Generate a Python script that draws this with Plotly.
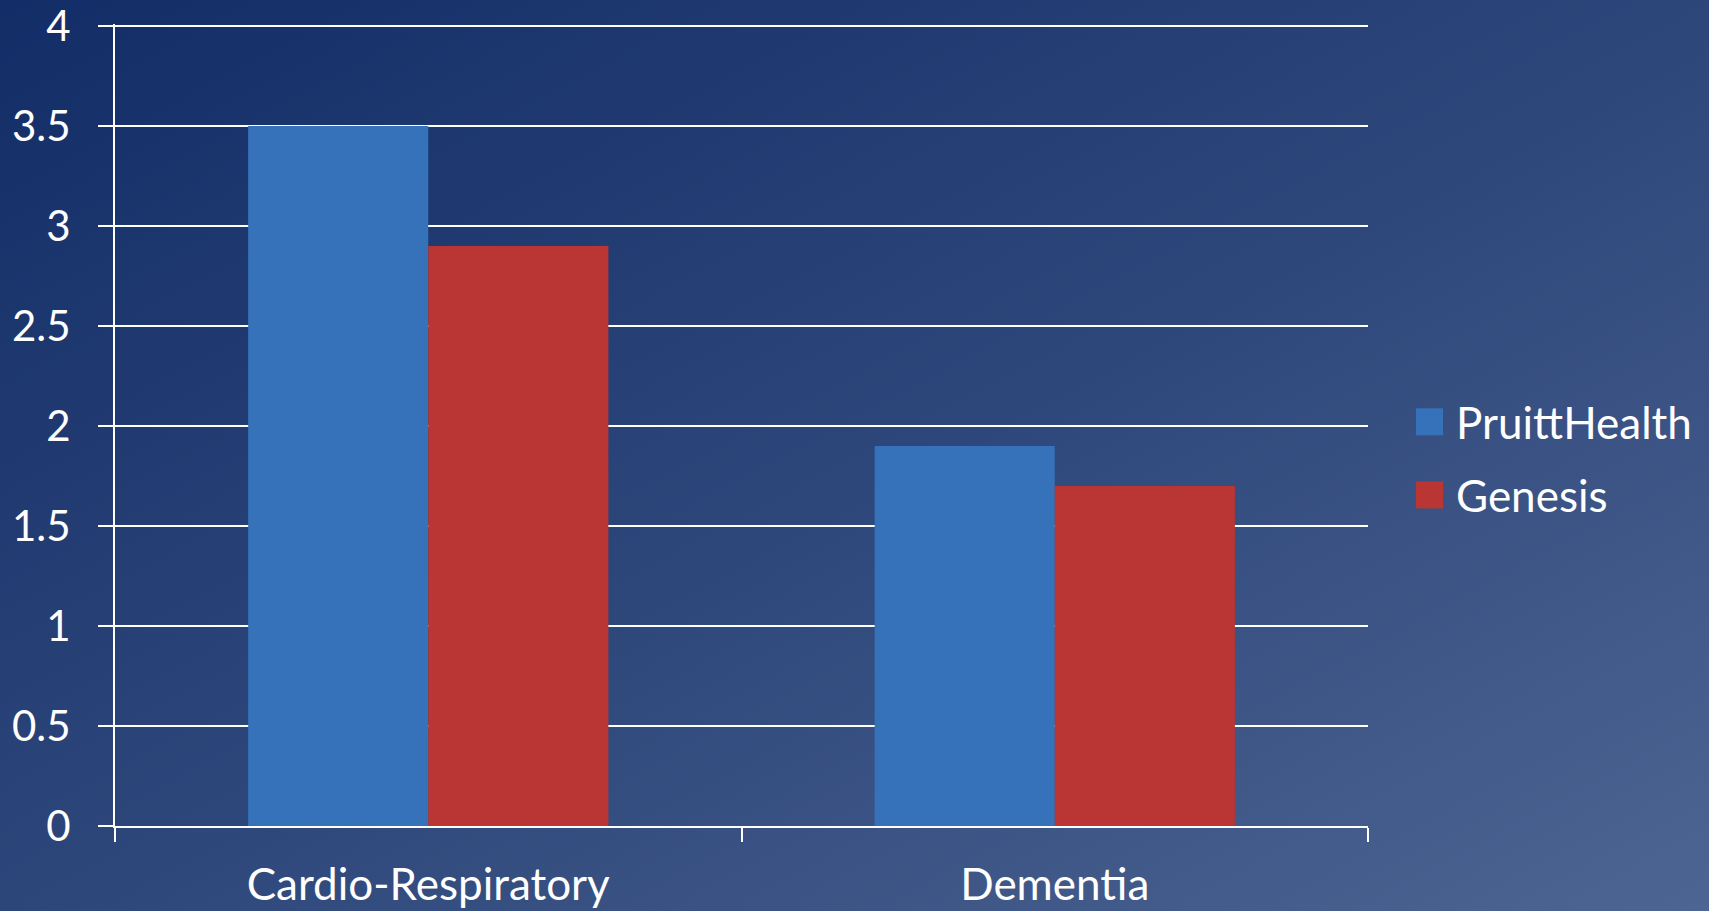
import base64
import plotly.graph_objects as go

categories = ["Cardio-Respiratory", "Dementia"]
series_names = ["PruittHealth", "Genesis"]
pruitt_values = [3.5, 1.9]
genesis_values = [2.9, 1.7]
y_tick_vals = [0, 0.5, 1, 1.5, 2, 2.5, 3, 3.5, 4]
y_tick_text = ["0", "0.5", "1", "1.5", "2", "2.5", "3", "3.5", "4"]
series_colors = ["#3672b9", "#b93634"]

W, H = 1709, 911
ML, MR, MT, MB = 115, 341, 24, 85
PW, PH = W - ML - MR, H - MT - MB
FONT = "Lato"
FS = 44

svg = f'''<svg xmlns="http://www.w3.org/2000/svg" width="{W}" height="{H}" viewBox="0 0 {W} {H}" preserveAspectRatio="none">
<defs><linearGradient id="g" x1="0" y1="0" x2="1" y2="1">
<stop offset="0" stop-color="#122d67"/><stop offset="0.5" stop-color="#2d467a"/><stop offset="1" stop-color="#4d6592"/>
</linearGradient></defs><rect width="{W}" height="{H}" fill="url(#g)"/></svg>'''
bg_src = "data:image/svg+xml;base64," + base64.b64encode(svg.encode()).decode()

fig = go.Figure()
for name, vals, col in zip(series_names, [pruitt_values, genesis_values], series_colors):
    fig.add_trace(go.Bar(x=categories, y=vals, name=name, marker=dict(color=col, line=dict(width=0)),
                         showlegend=False))

shapes = []
annotations = []
legend_y = [0.504, 0.4128]
for name, col, yc in zip(series_names, series_colors, legend_y):
    half = 13.5 / PH
    shapes.append(dict(type="rect", xref="paper", yref="paper",
                       x0=(1416 - ML) / PW, x1=(1443 - ML) / PW, y0=yc - half, y1=yc + half,
                       fillcolor=col, line=dict(width=0)))
    annotations.append(dict(text=name, xref="paper", yref="paper", x=(1454 - ML) / PW, y=yc,
                            xanchor="left", yanchor="middle", showarrow=False,
                            font=dict(family=FONT, size=FS, color="white")))

fig.update_layout(
    template="none",
    width=W, height=H,
    margin=dict(l=ML, r=MR, t=MT, b=MB, pad=0),
    paper_bgcolor="#2d467a", plot_bgcolor="rgba(0,0,0,0)",
    barmode="group", bargap=0.425, bargroupgap=0,
    font=dict(family=FONT, color="white", size=FS),
    shapes=shapes, annotations=annotations,
    images=[dict(source=bg_src, xref="paper", yref="paper", x=-ML / PW, y=1 + MT / PH,
                 sizex=W / PW, sizey=H / PH, xanchor="left", yanchor="top",
                 sizing="stretch", layer="below")],
    xaxis=dict(automargin=False, showgrid=False, showline=True, linecolor="white", linewidth=2,
               ticks="outside", tickson="boundaries", ticklen=14, tickwidth=2, tickcolor="white",
               tickfont=dict(family=FONT, size=FS, color="white"), ticklabelstandoff=19),
    yaxis=dict(automargin=False, range=[0, 4.01], tickvals=y_tick_vals, ticktext=y_tick_text,
               showgrid=True, gridcolor="white", gridwidth=2, ticklabeloverflow="allow",
               showline=True, linecolor="white", linewidth=2, zeroline=False,
               ticks="outside", ticklen=15, tickwidth=2, tickcolor="white",
               tickfont=dict(family=FONT, size=42, color="white"), ticklabelstandoff=19),
)

fig.write_html("out.html")
